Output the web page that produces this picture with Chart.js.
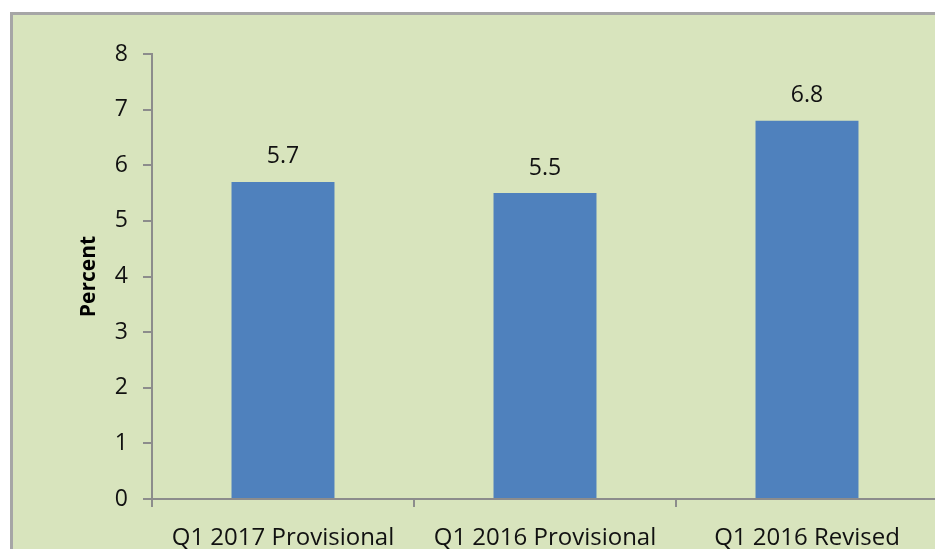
<!DOCTYPE html>
<html>
<head>
<meta charset="utf-8">
<script src="https://cdn.jsdelivr.net/npm/chart.js@4"></script>
<style>
  html, body { margin: 0; padding: 0; overflow: hidden; background: #ffffff; }
  canvas { display: block; }
</style>
</head>
<body>
<canvas id="barChart" width="945" height="560"></canvas>
<script>
const categories = ['Q1 2017 Provisional', 'Q1 2016 Provisional', 'Q1 2016 Revised'];
const percentValues = [5.7, 5.5, 6.8];
const yTicks = [0, 1, 2, 3, 4, 5, 6, 7, 8];

const FONT = "'Open Sans', 'Liberation Sans', sans-serif";

// green panel with grey frame, like the spreadsheet chart area
const panelBackground = {
  id: 'panelBackground',
  beforeDraw(chart) {
    const ctx = chart.ctx;
    ctx.save();
    ctx.fillStyle = '#d8e4bd';
    ctx.fillRect(11, 13, chart.width, chart.height);
    ctx.strokeStyle = '#a6a6a6';
    ctx.lineWidth = 3;
    ctx.strokeRect(11.5, 13.5, chart.width + 10, chart.height + 10);
    ctx.restore();
  }
};

// value labels above the bars
const valueLabels = {
  id: 'valueLabels',
  afterDatasetsDraw(chart) {
    const ctx = chart.ctx;
    const meta = chart.getDatasetMeta(0);
    ctx.save();
    ctx.font = '23px ' + FONT;
    ctx.fillStyle = '#111111';
    ctx.textAlign = 'center';
    ctx.textBaseline = 'middle';
    meta.data.forEach((bar, i) => {
      ctx.fillText(percentValues[i].toFixed(1), bar.x, bar.y - 25);
    });
    ctx.restore();
  }
};

const chart_ctx = document.getElementById('barChart');
var barChart = new Chart(chart_ctx, {
  type: 'bar',
  data: {
    labels: categories,
    datasets: [{
      label: 'Percent',
      data: percentValues,
      backgroundColor: '#4f81bd',
      borderWidth: 0,
      categoryPercentage: 1,
      barPercentage: 0.393
    }]
  },
  options: {
    responsive: false,
    animation: false,
    layout: {
      padding: { top: 54, right: 7, bottom: 1, left: 0 }
    },
    plugins: {
      legend: { display: false },
      tooltip: { enabled: false }
    },
    scales: {
      x: {
        offset: true,
        grid: {
          offset: true,
          drawOnChartArea: false,
          tickLength: 8,
          color: '#8c8c8c',
          lineWidth: 2
        },
        border: { color: '#8c8c8c', width: 2 },
        ticks: {
          color: '#111111',
          padding: 17,
          maxRotation: 0,
          font: { family: FONT, size: 24 }
        },
        afterFit: (scale) => { scale.height = 60; }
      },
      y: {
        min: 0,
        max: 8,
        afterBuildTicks: (scale) => { scale.ticks = yTicks.map(v => ({ value: v })); },
        grid: {
          drawOnChartArea: false,
          tickLength: 9,
          color: '#8c8c8c',
          lineWidth: 2
        },
        border: { color: '#8c8c8c', width: 2 },
        ticks: {
          color: '#111111',
          padding: 15,
          font: { family: FONT, size: 23 }
        },
        title: {
          display: true,
          text: 'Percent',
          color: '#000000',
          padding: { top: 76, bottom: 0 },
          font: { family: FONT, size: 21, weight: 'bold' }
        },
        afterFit: (scale) => { scale.width = 152; }
      }
    }
  },
  plugins: [panelBackground, valueLabels]
});
</script>
</body>
</html>
